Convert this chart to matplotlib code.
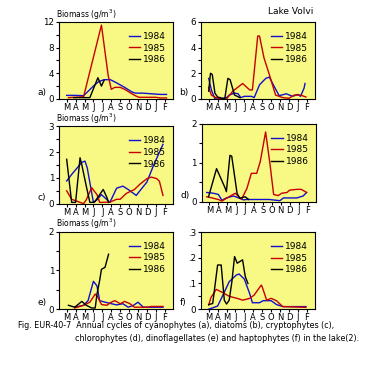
import matplotlib
matplotlib.use("Agg")
import matplotlib.pyplot as plt
from matplotlib.ticker import MultipleLocator

BLUE = "#1010d0"
RED = "#c80000"
BLACK = "#000000"
FACE = "#f8f884"
MONTHS = ["M", "A", "M", "J", "J", "A", "S", "O", "N", "D", "J", "F"]
YEARS = ["1984", "1985", "1986"]

# (a) cyanophytes -- month index (0 = March), biomass g/m3
a84_x = [0, 1, 1.9, 3.0, 3.6, 4.2, 4.9, 5.6, 6.5, 7.3, 7.7, 8.5, 9.5, 10.5, 11.2]
a84_y = [0.55, 0.55, 0.5, 2.0, 2.7, 3.0, 3.0, 2.5, 1.8, 1.1, 0.9, 0.9, 0.8, 0.7, 0.7]
a85_x = [0.2, 1.0, 1.9, 3.9, 4.65, 5.0, 5.4, 6.0, 6.5, 7.2, 7.7, 8.1, 9.0, 10.0, 10.5, 11.2]
a85_y = [0.2, 0.25, 0.35, 11.5, 3.7, 1.5, 1.8, 1.8, 1.5, 0.9, 0.5, 0.25, 0.25, 0.25, 0.15, 0.15]
a86_x = [0.8, 1.5, 2.6, 3.5, 3.9, 4.2]
a86_y = [0.2, 0.2, 0.2, 3.3, 2.0, 2.9]

# (b) diatoms
b84_x = [0, 0.3, 0.7, 1.2, 2.0, 2.3, 2.9, 3.3, 3.6, 4.0, 4.8, 5.1, 5.7, 6.4, 6.8, 7.4, 7.9, 8.7, 9.4, 10.0, 10.3, 10.7, 10.8]
b84_y = [1.6, 0.7, 0.0, 0.0, 0.1, 0.3, 0.45, 0.4, 0.1, 0.2, 0.2, 0.1, 1.1, 1.6, 1.7, 0.9, 0.25, 0.4, 0.2, 0.35, 0.2, 0.85, 1.2]
b85_x = [0, 0.3, 0.8, 1.5, 2.0, 2.7, 3.8, 4.6, 4.9, 5.5, 5.7, 6.2, 6.8, 7.5, 8.3, 9.0, 9.6, 10.3, 10.9]
b85_y = [0.9, 0.3, 0.1, 0.0, 0.0, 0.6, 1.2, 0.7, 0.7, 4.9, 4.9, 3.2, 1.9, 0.3, 0.1, 0.05, 0.3, 0.3, 0.15]
b86_x = [0, 0.2, 0.4, 0.7, 1.0, 1.8, 2.15, 2.4, 2.9, 3.5]
b86_y = [0.6, 2.0, 1.9, 0.45, 0.15, 0.0, 1.6, 1.5, 0.3, 0.1]

# (c) cryptophytes
c84_x = [0, 0.6, 1.7, 2.05, 2.3, 3.0, 3.4, 3.9, 4.85, 5.6, 6.3, 6.9, 7.8, 9.0, 9.7, 10.8]
c84_y = [0.88, 1.15, 1.6, 1.65, 1.4, 0.05, 0.15, 0.35, 0.05, 0.6, 0.68, 0.55, 0.32, 0.84, 1.45, 2.3]
c85_x = [0, 0.56, 1.9, 2.2, 2.8, 3.4, 3.7, 4.85, 5.6, 6.0, 6.7, 7.6, 8.2, 9.0, 9.5, 10.1, 10.4, 10.8]
c85_y = [0.5, 0.17, 0.0, 0.15, 0.62, 0.35, 0.05, 0.06, 0.17, 0.17, 0.4, 0.55, 0.75, 0.97, 1.03, 0.97, 0.87, 0.32]
c86_x = [0, 0.56, 1.0, 1.5, 1.7, 2.2, 2.6, 3.1, 3.7, 4.1, 4.5, 4.7]
c86_y = [1.72, 0.05, 0.05, 1.78, 1.5, 0.68, 0.05, 0.05, 0.35, 0.55, 0.25, 0.05]

# (d) chlorophytes
d84_x = [-0.3, 0.45, 1.0, 1.4, 1.9, 2.7, 3.4, 3.8, 4.2, 6.7, 7.9, 8.3, 9.8, 10.5, 10.9]
d84_y = [0.24, 0.22, 0.19, 0.04, 0.1, 0.15, 0.09, 0.05, 0.06, 0.06, 0.03, 0.1, 0.1, 0.15, 0.24]
d85_x = [-0.3, 0.3, 1.0, 1.4, 1.9, 2.5, 2.9, 3.2, 3.6, 4.2, 4.7, 5.3, 5.7, 6.3, 6.8, 7.2, 7.7, 8.1, 8.7, 9.0, 9.8, 10.3, 10.9]
d85_y = [0.13, 0.1, 0.06, 0.02, 0.09, 0.17, 0.22, 0.15, 0.07, 0.34, 0.73, 0.73, 1.03, 1.79, 0.95, 0.19, 0.16, 0.22, 0.24, 0.3, 0.32, 0.32, 0.24]
d86_x = [-0.1, 0.8, 1.75, 1.9, 2.3, 2.5, 3.1, 3.4, 4.0, 4.4]
d86_y = [0.13, 0.85, 0.36, 0.26, 1.19, 1.17, 0.22, 0.09, 0.13, 0.06]

# (e) dinoflagellates
e84_x = [0.9, 1.9, 2.4, 3.0, 3.4, 3.7, 4.3, 4.85, 5.6, 6.3, 6.9, 7.5, 8.0, 8.6, 10.8]
e84_y = [0.05, 0.1, 0.22, 0.72, 0.6, 0.22, 0.18, 0.15, 0.11, 0.14, 0.05, 0.1, 0.18, 0.05, 0.05]
e85_x = [0.9, 1.9, 2.6, 3.2, 3.5, 3.9, 4.5, 5.0, 5.4, 6.0, 6.5, 7.1, 7.6, 9.0, 9.5, 10.8]
e85_y = [0.03, 0.1, 0.18, 0.39, 0.31, 0.12, 0.1, 0.18, 0.22, 0.14, 0.2, 0.14, 0.05, 0.05, 0.07, 0.07]
e86_x = [0.2, 0.9, 1.7, 2.2, 2.8, 3.2, 3.4, 3.7, 3.9, 4.3, 4.5, 4.7]
e86_y = [0.1, 0.05, 0.2, 0.1, 0.03, 0.03, 0.39, 0.74, 1.03, 1.08, 1.25, 1.42]

# (f) haptophytes
f84_x = [0, 0.6, 1.0, 1.6, 2.3, 3.1, 3.4, 4.0, 4.6, 4.9, 5.7, 6.1, 7.0, 7.6, 8.3, 10.9]
f84_y = [0.0, 0.007, 0.012, 0.055, 0.107, 0.133, 0.137, 0.117, 0.06, 0.025, 0.025, 0.033, 0.033, 0.018, 0.01, 0.01]
f85_x = [0, 0.25, 0.85, 1.6, 2.3, 3.2, 3.8, 4.6, 5.1, 5.9, 6.0, 6.5, 7.0, 7.6, 8.3, 10.9]
f85_y = [0.016, 0.045, 0.077, 0.064, 0.05, 0.042, 0.035, 0.042, 0.055, 0.094, 0.087, 0.035, 0.042, 0.033, 0.01, 0.007]
f86_x = [0, 0.45, 1.0, 1.4, 1.75, 2.0, 2.3, 2.6, 2.9, 3.2, 3.8, 4.1, 4.4]
f86_y = [0.018, 0.022, 0.172, 0.172, 0.035, 0.02, 0.035, 0.107, 0.205, 0.179, 0.192, 0.127, 0.1]

panels = [
    ("a)", [(a84_x, a84_y), (a85_x, a85_y), (a86_x, a86_y)], 12, 4, ["0", "4", "8", "12"]),
    ("b)", [(b84_x, b84_y), (b85_x, b85_y), (b86_x, b86_y)], 6, 2, ["0", "2", "4", "6"]),
    ("c)", [(c84_x, c84_y), (c85_x, c85_y), (c86_x, c86_y)], 3, 1, ["0", "1", "2", "3"]),
    ("d)", [(d84_x, d84_y), (d85_x, d85_y), (d86_x, d86_y)], 2, 1, ["0", "1", "2"]),
    ("e)", [(e84_x, e84_y), (e85_x, e85_y), (e86_x, e86_y)], 2, 1, ["0", "1", "2"]),
    ("f)", [(f84_x, f84_y), (f85_x, f85_y), (f86_x, f86_y)], 0.3, 0.1, ["0", ".1", ".2", ".3"]),
]

# axes rectangles in figure fraction
rects = [
    [0.161, 0.729, 0.311, 0.211],
    [0.548, 0.729, 0.311, 0.211],
    [0.161, 0.442, 0.311, 0.212],
    [0.550, 0.447, 0.311, 0.214],
    [0.161, 0.153, 0.311, 0.212],
    [0.548, 0.153, 0.311, 0.211],
]

plt.rcParams["font.family"] = "DejaVu Sans"
fig = plt.figure(figsize=(3.67, 3.65), dpi=100)
fig.patch.set_facecolor("white")

for (label, series, ymax, step, ylabels), rect in zip(panels, rects):
    ax = fig.add_axes(rect)
    ax.set_facecolor(FACE)
    for (x, y), c, yr in zip(series, [BLUE, RED, BLACK], YEARS):
        ax.plot(x, y, color=c, lw=1.0, label=yr)
    ax.set_xlim(-0.85, 11.95)
    ax.set_ylim(0, ymax)
    ax.set_xticks(range(12))
    ax.set_xticklabels(MONTHS, fontsize=6.0)
    ax.set_yticks([i * step for i in range(len(ylabels))])
    ax.set_yticklabels(ylabels, fontsize=6.3)
    ax.yaxis.set_minor_locator(MultipleLocator(step / 2))
    ax.tick_params(direction="out", length=2.5, width=0.8, pad=1)
    ax.tick_params(axis="x", pad=0.5)
    ax.tick_params(which="minor", direction="out", length=2, width=0.8)
    for s in ax.spines.values():
        s.set_linewidth(0.8)
    ax.legend(loc="upper left", bbox_to_anchor=(0.57, 0.93), frameon=False,
              fontsize=6.5, handlelength=1.3, handletextpad=0.3,
              labelspacing=0.3, borderpad=0)
    ax.text(-0.19, 0.08, label, transform=ax.transAxes, fontsize=6.5, ha="left", va="center")
    if label in ("a)", "c)", "e)"):
        ax.text(-0.025, 1.005, "Biomass (g/m$^3$)", transform=ax.transAxes,
                fontsize=5.5, ha="left", va="bottom")

fig.text(0.855, 0.955, "Lake Volvi", fontsize=6.5, ha="right", va="bottom")
fig.text(0.05, 0.108, "Fig. EUR-40-7  Annual cycles of cyanophytes (a), diatoms (b), cryptophytes (c),",
         fontsize=5.8, ha="left", va="center")
fig.text(0.205, 0.072, "chlorophytes (d), dinoflagellates (e) and haptophytes (f) in the lake(2).",
         fontsize=5.8, ha="left", va="center")

fig.savefig("out.png", dpi=100)
